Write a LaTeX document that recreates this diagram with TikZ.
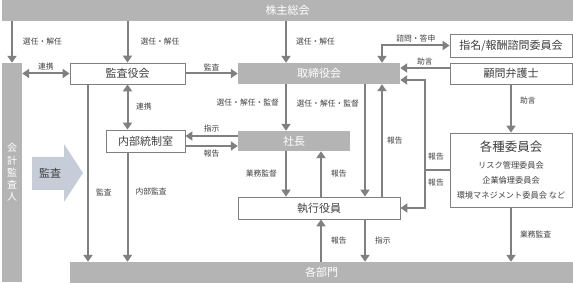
\documentclass[tikz,border=0pt]{standalone}
\usepackage{fontspec}
\setmainfont{Noto Sans CJK JP}
\usepackage{tikz}
\usetikzlibrary{positioning,arrows.meta,calc}
\definecolor{bargray}{RGB}{180,180,180}
\definecolor{linegray}{RGB}{128,128,128}
\definecolor{txtgray}{RGB}{64,64,64}
\definecolor{arrowblue}{RGB}{198,205,216}

\begin{document}
\begin{tikzpicture}[
    x=1pt, y=-1pt,
    graybar/.style={
        fill=bargray,
        text=white,
        inner sep=0pt,
        font=\fontsize{11}{13}\selectfont
    },
    whitebox/.style={
        draw=linegray,
        fill=white,
        text=txtgray,
        line width=0.8pt,
        inner sep=0pt,
        font=\fontsize{11}{13}\selectfont
    },
    arrowline/.style={
        draw=linegray,
        line width=2pt,
        -{Triangle[width=9pt,length=7pt]}
    },
    twoway/.style={
        arrowline,
        {Triangle[width=9pt,length=7pt]}-{Triangle[width=9pt,length=7pt]}
    },
    lbl/.style={
        text=txtgray,
        inner sep=1pt,
        font=\fontsize{7.8}{9}\selectfont
    }
]
\useasboundingbox (0,0) rectangle (573,283);

% Gray bars
\node[graybar, minimum width=571pt, minimum height=21pt] (gm) at (287.5,10.5) {株主総会};
\node[graybar, minimum width=20pt, minimum height=219pt, align=center,
      font=\fontsize{10}{12.2}\selectfont] (cpa) at (12,172.5) {会\\計\\監\\査\\人};
\node[graybar, minimum width=503pt, minimum height=21pt] (dept) at (321.5,272.5) {各部門};

% Boxes
\node[whitebox, minimum width=115pt, minimum height=21pt] (aud) at (127.5,73.5) {監査役会};
\node[graybar, minimum width=162pt, minimum height=21pt] (dir) at (319,73.5) {取締役会};
\node[whitebox, minimum width=79pt, minimum height=22pt] (ictrl) at (145.5,141) {内部統制室};
\node[graybar, minimum width=112pt, minimum height=20pt] (pres) at (294,141) {社長};
\node[whitebox, minimum width=162pt, minimum height=22pt] (exec) at (319,208) {執行役員};
\node[whitebox, minimum width=122pt, minimum height=23pt] (nom) at (511,45.5) {指名/報酬諮問委員会};
\node[whitebox, minimum width=122pt, minimum height=21pt] (lawyer) at (511,73.5) {顧問弁護士};
\node[whitebox, minimum width=122pt, minimum height=74pt, align=center,
      font=\fontsize{8.2}{15}\selectfont] (comm) at (511,170)
    {{\fontsize{12.5}{15}\selectfont 各種委員会}\\[2pt]
     リスク管理委員会\\企業倫理委員会\\環境マネジメント委員会 など};

% Big audit arrow
\fill[arrowblue] (32,157) -- (64,157) -- (64,144) -- (83,173) -- (64,202) -- (64,190) -- (32,190) -- cycle;
\node[text=txtgray, font=\fontsize{11}{13}\selectfont] (audit) at (50,173) {監査};

% From the shareholders' meeting
\draw[arrowline] (gm.south -| cpa.north) -- node[lbl, right=9pt] {選任・解任} (cpa.north);
\draw[arrowline] (gm.south -| aud.north) -- node[lbl, right=11pt] {選任・解任} (aud.north);
\draw[arrowline] (gm.south -| 286,0) -- node[lbl, right=8pt] {選任・解任} (dir.north -| 286,0);

% Audit board
\draw[twoway] (cpa.east |- aud.west) -- node[lbl, above=1pt] {連携} (aud.west);
\draw[arrowline] (aud.east) -- node[lbl, above=1pt] {監査} (dir.west);
\draw[twoway] (aud.south) -- node[lbl, right=6.5pt] {連携} (ictrl.north -| aud.south);
\draw[arrowline] (aud.south -| 88,0) -- node[lbl, right=6pt, pos=0.61] {監査} (dept.north -| 88,0);
\draw[arrowline] (ictrl.south -| aud.south) -- node[lbl, right=6pt, pos=0.36] {内部監査} (dept.north -| aud.south);

% President and internal control
\draw[arrowline] ([yshift=5pt]pres.west) -- node[lbl, above=2pt] {指示} ([yshift=5pt]ictrl.east);
\draw[arrowline] ([yshift=-5pt]ictrl.east) -- node[lbl, below=2pt] {報告} ([yshift=-5pt]pres.west);

% Board of directors
\draw[arrowline] (dir.south -| 286,0) -- node[lbl, left=5pt, pos=0.4] {選任・解任・監督} (pres.north -| 286,0);
\draw[arrowline] (dir.south -| 365,0) -- node[lbl, left=4pt, pos=0.17] {選任・解任・監督} (exec.north -| 365,0);
\draw[arrowline] (exec.north -| 382,0) -- node[lbl, right=3pt] {報告} (dir.south -| 382,0);
\draw[twoway] (dir.north -| 382,0) |- node[lbl, above=1pt, pos=0.75] {諮問・答申} (nom.west);
\draw[arrowline] (lawyer.west |- 0,68) -- node[lbl, above=1pt] {助言} (dir.east |- 0,68);

% Committees
\coordinate (split) at (425,170);
\draw[draw=linegray, line width=2pt] (comm.west) -- (split);
\draw[arrowline] (split) |- (dir.east |- 0,80);
\draw[arrowline] (split) |- (exec.east);
\node[lbl] (rep1) at ([xshift=11pt,yshift=13pt]split) {報告};
\node[lbl] (rep2) at ([xshift=11pt,yshift=-13pt]split) {報告};
\draw[arrowline] (lawyer.south) -- node[lbl, right=7pt, pos=0.33] {助言} (comm.north);
\draw[arrowline] (comm.south) -- node[lbl, right=7pt] {業務監査} (dept.north -| comm.south);

% Executive officers
\draw[arrowline] (pres.south -| 286,0) -- node[lbl, left=7pt] {業務監督} (exec.north -| 286,0);
\draw[arrowline] (exec.north -| 321,0) -- node[lbl, right=8pt] {報告} (pres.south -| 321,0);
\draw[arrowline] (dept.north -| 321,0) -- node[lbl, right=8pt] {報告} (exec.south -| 321,0);
\draw[arrowline] (exec.south -| 365,0) -- node[lbl, right=8pt] {指示} (dept.north -| 365,0);
\end{tikzpicture}
\end{document}
